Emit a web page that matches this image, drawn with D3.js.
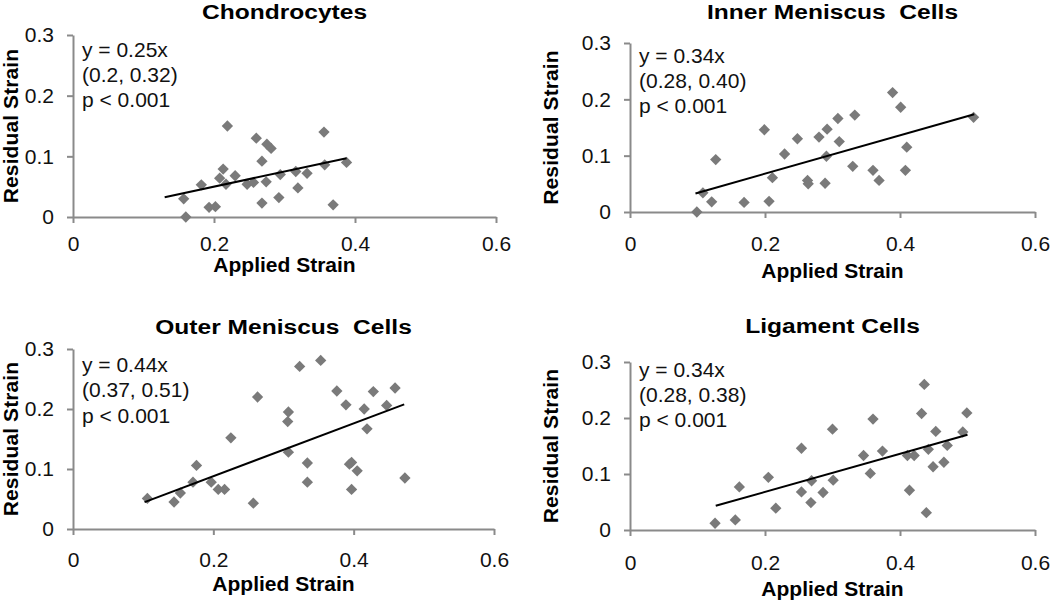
<!DOCTYPE html>
<html>
<head>
<meta charset="utf-8">
<script src="https://cdn.jsdelivr.net/npm/d3@7"></script>
<style>
  html, body { margin: 0; padding: 0; background: #fff; }
  svg { display: block; font-family: "Liberation Sans", Arial, sans-serif; }
  .title { white-space: pre; }
</style>
</head>
<body>
<svg id="chart" width="1050" height="602"></svg>
<script>
// ---------- DATA ----------
const titles = ["Chondrocytes", "Inner Meniscus  Cells", "Outer Meniscus  Cells", "Ligament Cells"];
const slopes = [0.25, 0.34, 0.44, 0.34];
const equationLabels = ["y = 0.25x", "y = 0.34x", "y = 0.44x", "y = 0.34x"];
const ciLabels = ["(0.2, 0.32)", "(0.28, 0.40)", "(0.37, 0.51)", "(0.28, 0.38)"];
const pLabels = ["p < 0.001", "p < 0.001", "p < 0.001", "p < 0.001"];
const fitRanges = [[0.13, 0.388], [0.097, 0.51], [0.102, 0.472], [0.127, 0.50]];

const chondroX = [0.157,0.160,0.182,0.193,0.202,0.208,0.213,0.219,0.217,0.230,0.247,0.256,0.260,0.268,0.268,0.274,0.275,0.281,0.292,0.294,0.316,0.319,0.332,0.356,0.357,0.369,0.388];
const chondroY = [0.030,0.000,0.053,0.016,0.017,0.064,0.079,0.150,0.054,0.068,0.054,0.057,0.130,0.023,0.092,0.058,0.120,0.113,0.032,0.070,0.075,0.048,0.072,0.140,0.086,0.020,0.090];

const innerX = [0.099,0.108,0.121,0.127,0.169,0.199,0.206,0.211,0.229,0.248,0.263,0.264,0.280,0.289,0.291,0.292,0.308,0.310,0.330,0.333,0.360,0.369,0.389,0.401,0.410,0.408,0.509];
const innerY = [0.000,0.034,0.018,0.093,0.017,0.146,0.019,0.061,0.103,0.130,0.056,0.050,0.133,0.051,0.099,0.147,0.166,0.125,0.081,0.172,0.074,0.056,0.212,0.186,0.115,0.074,0.168];

const outerX = [0.106,0.144,0.153,0.171,0.176,0.197,0.207,0.216,0.225,0.257,0.263,0.306,0.307,0.307,0.323,0.334,0.334,0.353,0.376,0.389,0.394,0.397,0.397,0.405,0.415,0.419,0.428,0.447,0.459,0.473];
const outerY = [0.051,0.045,0.060,0.078,0.106,0.078,0.066,0.066,0.152,0.043,0.220,0.179,0.195,0.128,0.271,0.110,0.078,0.281,0.230,0.207,0.108,0.111,0.066,0.097,0.200,0.167,0.229,0.206,0.235,0.085];

const ligX = [0.126,0.156,0.162,0.205,0.216,0.254,0.254,0.268,0.269,0.286,0.300,0.301,0.346,0.356,0.360,0.374,0.411,0.414,0.421,0.436,0.432,0.439,0.442,0.449,0.453,0.465,0.470,0.493,0.499];
const ligY = [0.012,0.018,0.077,0.094,0.039,0.068,0.146,0.049,0.088,0.067,0.180,0.089,0.133,0.101,0.198,0.141,0.133,0.071,0.133,0.260,0.208,0.031,0.144,0.113,0.176,0.121,0.151,0.175,0.209];

const seriesX = [chondroX, innerX, outerX, ligX];
const seriesY = [chondroY, innerY, outerY, ligY];

const xTickValues = [0, 0.2, 0.4, 0.6];
const xTickLabels = ["0", "0.2", "0.4", "0.6"];
const yTickValues = [0, 0.1, 0.2, 0.3];
const yTickLabels = ["0", "0.1", "0.2", "0.3"];
const xAxisTitle = "Applied Strain";
const yAxisTitle = "Residual Strain";

// ---------- LAYOUT ----------
const panels = [
  { l: 73,  r: 496,  t: 35,  b: 217, titleY: 19,  xlabY: 272, ylabX: 18,  xpad: 13, ann: [57, 82, 107] },
  { l: 630, r: 1035, t: 43,  b: 212, titleY: 19,  xlabY: 278, ylabX: 558, xpad: 18, ann: [63, 88, 113] },
  { l: 73,  r: 494,  t: 349, b: 529, titleY: 334, xlabY: 591, ylabX: 18,  xpad: 17, ann: [372, 397, 423] },
  { l: 630, r: 1035, t: 362, b: 530, titleY: 333, xlabY: 596, ylabX: 558, xpad: 19, ann: [377, 402, 427] }
];

const axisColor = "#8a8a8a";
const markColor = "#7a7a7a";
const textColor = "#111";

const svg = d3.select("#chart");
const diamond = d3.symbol().type(d3.symbolSquare).size(64)();

panels.forEach((p, i) => {
  const x = d3.scaleLinear().domain([0, 0.6]).range([p.l, p.r]);
  const y = d3.scaleLinear().domain([0, 0.3]).range([p.b, p.t]);
  const g = svg.append("g");

  // axes
  const yAxis = d3.axisLeft(y).tickValues(yTickValues)
    .tickFormat((d, k) => yTickLabels[k]).tickSize(6).tickPadding(13).tickSizeOuter(0);
  const xAxis = d3.axisBottom(x).tickValues(xTickValues)
    .tickFormat((d, k) => xTickLabels[k]).tickSize(6).tickPadding(p.xpad).tickSizeOuter(0);

  const gy = g.append("g").attr("transform", `translate(${p.l},0)`).call(yAxis);
  const gx = g.append("g").attr("transform", `translate(0,${p.b})`).call(xAxis);
  [gx, gy].forEach(a => {
    a.select(".domain").attr("stroke", axisColor).attr("stroke-width", 2);
    a.selectAll(".tick line").attr("stroke", axisColor).attr("stroke-width", 2);
    a.selectAll(".tick text").attr("fill", textColor)
      .style("font-size", "21px").style("font-family", "'Liberation Sans', Arial, sans-serif");
  });

  // points
  g.append("g").selectAll("path")
    .data(seriesX[i].map((v, k) => [v, seriesY[i][k]]))
    .join("path")
    .attr("d", diamond)
    .attr("transform", d => `translate(${x(d[0])},${y(d[1])}) rotate(45)`)
    .attr("fill", markColor);

  // trend line
  const fr = fitRanges[i];
  g.append("line")
    .attr("x1", x(fr[0])).attr("y1", y(slopes[i] * fr[0]))
    .attr("x2", x(fr[1])).attr("y2", y(slopes[i] * fr[1]))
    .attr("stroke", "#000").attr("stroke-width", 2);

  // annotations
  [equationLabels[i], ciLabels[i], pLabels[i]].forEach((t, k) => {
    g.append("text").attr("x", p.l + 9).attr("y", p.ann[k])
      .attr("fill", textColor).style("font-size", "21px").text(t);
  });

  // title
  g.append("text").attr("class", "title")
    .attr("transform", `translate(${(p.l + p.r) / 2},${p.titleY}) scale(1.17,1)`)
    .attr("text-anchor", "middle").attr("fill", "#000")
    .style("font-size", "21px").style("font-weight", "bold")
    .text(titles[i]);

  // axis titles
  g.append("text")
    .attr("x", (p.l + p.r) / 2).attr("y", p.xlabY)
    .attr("text-anchor", "middle").attr("fill", "#000")
    .style("font-size", "21px").style("font-weight", "bold")
    .text(xAxisTitle);

  g.append("text")
    .attr("transform", `translate(${p.ylabX},${(p.t + p.b) / 2}) rotate(-90)`)
    .attr("text-anchor", "middle").attr("fill", "#000")
    .style("font-size", "21px").style("font-weight", "bold").style("letter-spacing", "0.1px")
    .text(yAxisTitle);
});
</script>
</body>
</html>
